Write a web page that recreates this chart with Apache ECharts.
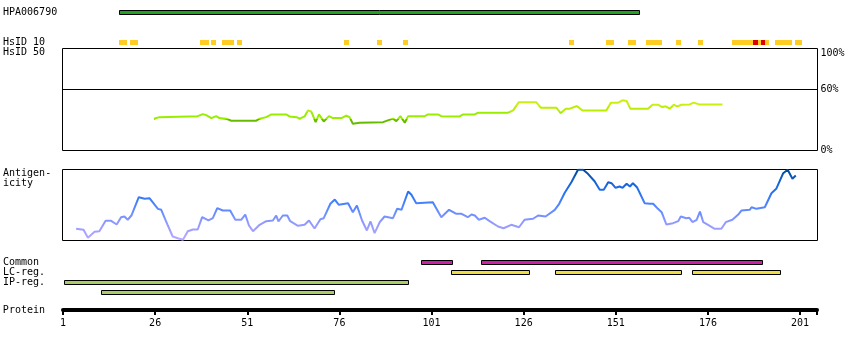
<!DOCTYPE html>
<html><head><meta charset="utf-8">
<script src="https://cdn.jsdelivr.net/npm/echarts@6/dist/echarts.min.js"></script>
<style>html,body{margin:0;padding:0;background:#fff}#c{width:850px;height:350px}</style>
</head><body><div id="c"></div>
<script>
// ---------------- data ----------------
const antibodyLabel = ['HPA006790'];
const antibodyRange = [[16.2, 157.4]];
const hsidRows = ['HsID 10', 'HsID 50'];
// [start, end, level]  level 0 = partial identity, 1 = full identity
const hsid10 = [
  [16.2,18.4,0],[19.2,21.4,0],[38.2,40.6,0],[41.2,42.5,0],[44.2,47.4,0],[48.2,49.6,0],
  [77.3,78.7,0],[86.3,87.6,0],[93.3,94.7,0],[138.4,139.7,0],[148.4,150.6,0],[154.4,156.6,0],
  [159.3,163.6,0],[167.4,168.8,0],[173.4,174.8,0],[182.4,188.3,0],[188.3,189.7,1],
  [189.7,190.5,0],[190.5,191.6,1],[191.6,192.7,0],[194.3,198.7,0],[199.5,201.6,0]
];
const identityLabels = [0, 60, 100];
const identityResidues = [25.8,27.3,37.7,39.1,40.0,41.4,42.7,43.6,45.4,46.8,53.6,54.5,56.3,57.7,61.7,62.6,64.5,65.4,66.7,67.6,68.5,69.7,70.6,71.9,73.3,74.4,76.7,78.0,78.9,79.8,81.6,88.0,89.3,90.7,91.6,92.7,93.9,94.8,99.3,100.2,102.9,103.8,108.8,109.7,112.9,113.8,121.9,123.3,124.8,129.6,130.8,135.0,136.2,137.6,138.7,140.6,142.1,148.6,149.8,151.8,153.0,154.1,155.1,159.9,161.1,162.6,163.8,164.7,165.8,166.9,167.8,169.0,171.2,172.3,173.8,180.1];
const identityValues = [31.2,32.7,33.7,35.7,34.7,31.8,33.7,31.8,31.2,29.2,29.2,31.2,32.7,35.4,35.4,33.4,32.7,31.2,33.4,39.3,38.3,27.8,35.4,28.5,33.7,31.8,31.8,34.1,32.7,26.3,27.2,27.8,29.5,31.2,28.8,33.7,27.2,33.7,33.7,35.4,35.4,33.7,33.4,35.4,35.4,37.1,37.1,39.3,47.2,47.2,42.0,42.0,36.7,41.0,41.0,43.6,39.3,39.3,46.9,46.9,49.2,48.5,41.0,41.0,44.9,44.9,42.6,43.3,41.0,44.9,43.3,44.9,45.2,46.9,45.2,45.2];
const antigenResidues = [4.7,6.7,7.9,9.7,11.0,12.7,14.2,15.7,16.9,17.8,18.7,19.7,21.7,23.3,24.6,26.9,27.8,29.6,30.9,32.3,33.7,35.0,36.4,37.7,38.9,40.6,41.8,43.0,44.5,46.5,47.9,49.5,50.6,51.6,52.7,54.5,56.3,58.1,59.0,59.6,60.8,62.0,62.8,64.9,66.7,67.9,69.4,71.0,71.9,73.7,74.9,76.0,78.5,79.8,80.9,82.3,83.6,84.6,85.7,87.1,88.4,90.7,91.8,93.0,94.8,95.7,97.0,101.5,103.8,105.9,107.9,109.3,111.0,112.0,112.9,114.0,115.6,116.9,119.2,120.7,122.8,124.9,126.4,128.7,130.1,132.1,134.6,135.8,137.3,139.1,140.9,142.3,143.6,145.4,146.8,147.9,149.1,150.0,151.1,152.2,153.0,154.1,155.0,155.8,156.9,159.0,160.4,161.3,162.6,163.6,164.9,166.7,168.1,168.8,170.3,171.1,172.0,173.1,174.0,174.9,176.2,178.0,179.8,181.0,182.8,184.4,185.3,187.5,188.0,189.3,191.6,193.4,194.7,196.6,197.8,199.1,200.0];
const antigenValues = [16.5,15.1,3.8,12.3,13.1,27.7,27.7,22.5,32.8,33.8,29.2,35.2,61.0,58.7,59.6,44.6,43.2,21.1,5.6,3.2,1.0,13.1,15.5,15.5,32.8,28.2,31.4,45.5,42.3,42.3,29.2,29.2,36.6,21.1,13.1,22.1,27.2,28.2,35.2,26.8,35.2,35.2,27.2,20.7,22.1,28.2,16.9,30.0,31.4,51.7,57.7,50.3,52.5,39.9,49.3,28.2,14.1,26.8,10.3,25.8,33.8,31.4,44.6,43.2,69.0,64.4,52.5,53.9,32.8,43.2,37.6,37.6,32.8,36.6,35.2,29.2,32.0,27.2,19.7,17.3,22.1,18.7,29.2,30.6,35.2,33.8,43.2,51.7,67.2,82.1,99.6,99.6,93.9,83.5,71.4,71.4,82.1,80.7,74.2,76.1,74.2,79.9,76.1,80.7,75.1,52.5,51.7,51.7,44.6,39.9,22.5,24.4,27.2,33.8,31.4,32.0,25.8,29.2,40.8,25.8,22.1,16.5,16.5,25.8,29.2,36.6,42.3,43.2,46.9,44.6,46.9,66.6,72.8,94.8,99.6,86.9,91.5];
const trackRows = ['Common', 'LC-reg.', 'IP-reg.', ''];
const commonRegions = [[98.2, 106.5], [114.3, 190.7]];
const lcRegions = [[106.3, 127.4], [134.4, 168.7], [171.6, 195.6]];
const ipRegions = [[1.35, 94.6]];
const ipRegions2 = [[11.4, 74.5]];
const proteinTickLabels = [1, 26, 51, 76, 101, 126, 151, 176, 201];

// ---------------- chart ----------------
const FONT = 'DejaVu Sans Mono';
const txt = { fontFamily: FONT, fontSize: 10, color: '#000' };
const trackColors = ['#cc22aa', '#eedd44', '#aacc66', '#aacc66'];

const identityData = identityResidues.map((r, i) => [r, identityValues[i]]);
const antigenData = antigenResidues.map((r, i) => [r, antigenValues[i]]);
const trackData = [];
[commonRegions, lcRegions, ipRegions, ipRegions2].forEach((list, row) =>
  list.forEach(([s, e]) => trackData.push([row, s, e])));

function boxRect(p1, p2, cy, color) {
  const x1 = Math.round(p1), x2 = Math.round(p2);
  return { type: 'rect', shape: { x: x1 + 0.5, y: Math.floor(cy - 2) + 0.5, width: x2 - x1, height: 4 },
    style: { fill: color, stroke: '#000', lineWidth: 1 } };
}

const chart = echarts.init(document.getElementById('c'), null, { renderer: 'canvas' });
const xData = { type: 'value', min: 1, max: 205.6, show: false };
const xWide = { type: 'value', min: 1, max: 205.9, show: false };
const catAxis = (data, gi) => ({
  type: 'category', data, inverse: true, gridIndex: gi,
  axisLine: { show: false }, axisTick: { show: false }, splitLine: { show: false },
  axisLabel: Object.assign({ align: 'left', margin: 60, interval: 0 }, txt)
});

chart.setOption({
  animation: false,
  backgroundColor: '#fff',
  title: { text: 'Antigen-\nicity', left: 3, top: 168, padding: 0,
    textStyle: Object.assign({ fontWeight: 'normal', lineHeight: 10 }, txt) },
  grid: [
    { left: 63, width: 754, top: 7, height: 10 },
    { left: 63, width: 754, top: 37, height: 20 },
    { left: 62.5, width: 755, top: 48.5, height: 102, show: true, borderColor: '#000', borderWidth: 1 },
    { left: 62.5, width: 755, top: 169.5, height: 71, show: true, borderColor: '#000', borderWidth: 1 },
    { left: 63, width: 754, top: 257, height: 40 },
    { left: 63, width: 754, top: 290, height: 20 }
  ],
  xAxis: [
    Object.assign({ gridIndex: 0 }, xData),
    Object.assign({ gridIndex: 1 }, xData),
    Object.assign({ gridIndex: 2 }, xWide),
    Object.assign({ gridIndex: 3 }, xWide),
    Object.assign({ gridIndex: 4 }, xData),
    { type: 'value', gridIndex: 5, min: 0, max: 204.6, interval: 25, position: 'bottom',
      name: 'Protein', nameLocation: 'start', nameGap: 18, nameTextStyle: txt,
      axisLine: { show: true, lineStyle: { color: '#000', width: 4 } },
      axisTick: { show: true, length: 5, lineStyle: { color: '#000', width: 2 } },
      splitLine: { show: false },
      axisLabel: Object.assign({ margin: 8, showMaxLabel: true, showMinLabel: true,
        formatter: v => proteinTickLabels.indexOf(Math.round(v) + 1) >= 0 && Math.abs(v - Math.round(v)) < 1e-6 ? String(Math.round(v) + 1) : '' }, txt) }
  ],
  yAxis: [
    catAxis(antibodyLabel, 0),
    catAxis(hsidRows, 1),
    { type: 'value', gridIndex: 2, min: 0, max: 100, interval: 20, position: 'right',
      axisLine: { show: false }, axisTick: { show: false }, splitLine: { show: false },
      axisLabel: Object.assign({ margin: 3, verticalAlignMaxLabel: 'top',
        formatter: v => identityLabels.indexOf(v) >= 0 ? v + '%' : '' }, txt) },
    { type: 'value', gridIndex: 3, min: 0, max: 100, show: false },
    catAxis(trackRows, 4),
    { type: 'value', gridIndex: 5, show: false }
  ],
  visualMap: [
    { type: 'piecewise', show: false, seriesIndex: 2, dimension: 1,
      pieces: [
        { lt: 30.5, color: '#66bb00' },
        { gte: 30.5, lt: 38, color: '#99ee00' },
        { gte: 38, lt: 44, color: '#bbee00' },
        { gte: 44, color: '#ccee11' }
      ] },
    { type: 'continuous', show: false, seriesIndex: 3, dimension: 1, min: 0, max: 100,
      inRange: { color: ['#bbaaff', '#8f99ff', '#4d84ff', '#1a6ae8', '#004a99'] } }
  ],
  series: [
    { type: 'custom', xAxisIndex: 0, yAxisIndex: 0, data: antibodyRange, encode: { x: [0, 1] },
      renderItem: (p, api) => {
        const a = api.coord([api.value(0), 0]), b = api.coord([api.value(1), 0]);
        return boxRect(a[0], b[0], a[1], '#22a022');
      } },
    { type: 'custom', xAxisIndex: 1, yAxisIndex: 1, data: hsid10, encode: { x: [0, 1] },
      renderItem: (p, api) => {
        const a = api.coord([api.value(0), 0]), b = api.coord([api.value(1), 0]);
        const x1 = Math.round(a[0]), x2 = Math.round(b[0]);
        return { type: 'rect', shape: { x: x1, y: Math.round(a[1] - 2), width: x2 - x1, height: 5 },
          style: { fill: api.value(2) ? '#dd0000' : '#ffcc22' } };
      } },
    { type: 'line', xAxisIndex: 2, yAxisIndex: 2, data: identityData, showSymbol: false,
      lineStyle: { width: 2 },
      markLine: { silent: true, symbol: 'none', label: { show: false },
        lineStyle: { color: '#000', width: 1, type: 'solid' }, data: [{ yAxis: 60 }] } },
    { type: 'line', xAxisIndex: 3, yAxisIndex: 3, data: antigenData, showSymbol: false,
      lineStyle: { width: 2 } },
    { type: 'custom', xAxisIndex: 4, yAxisIndex: 4, data: trackData, encode: { x: [1, 2], y: 0 },
      renderItem: (p, api) => {
        const row = api.value(0);
        const a = api.coord([api.value(1), row]), b = api.coord([api.value(2), row]);
        return boxRect(a[0], b[0], a[1], trackColors[row]);
      } }
  ]
});
</script></body></html>
